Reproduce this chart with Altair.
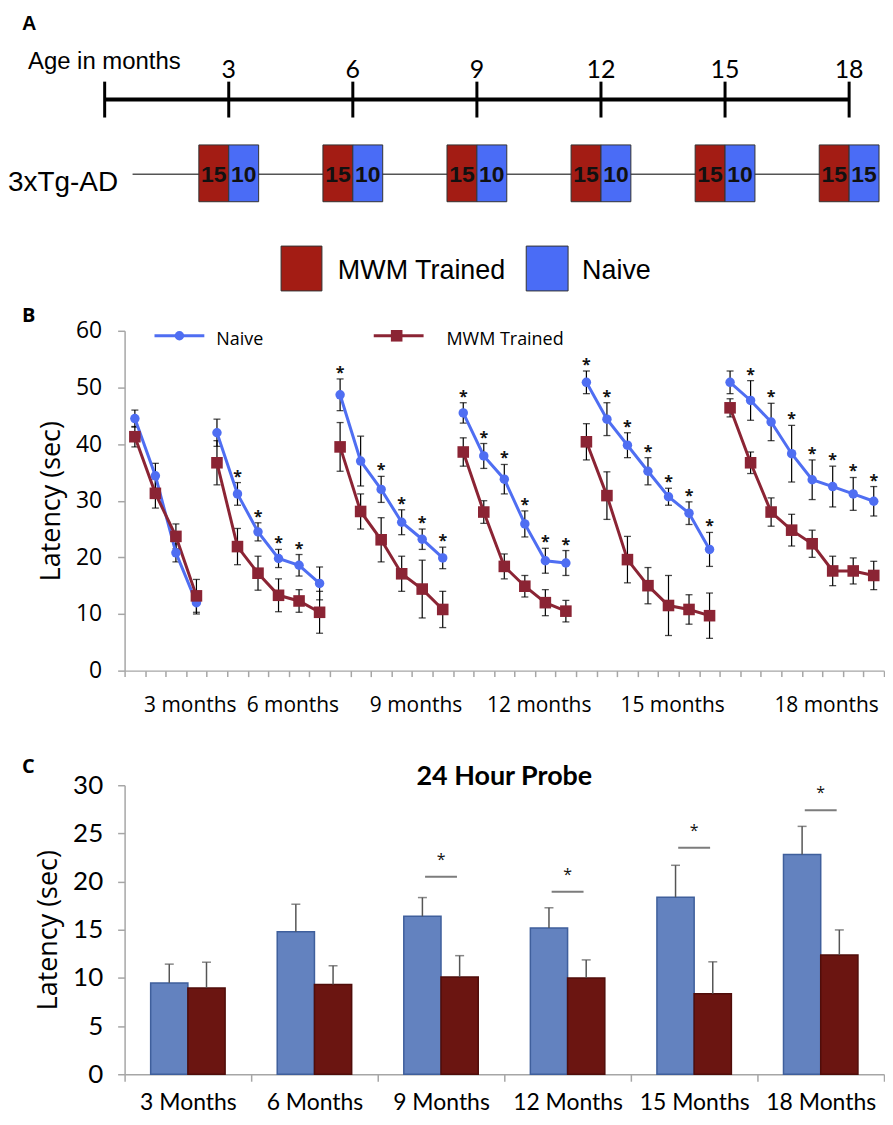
import altair as alt
import pandas as pd

# ---------------- Panel A data ----------------
timeline_ages = [0, 3, 6, 9, 12, 15, 18]
cohort_ages = [3, 6, 9, 12, 15, 18]
trained_n = [15, 15, 15, 15, 15, 15]
naive_n = [10, 10, 10, 10, 10, 15]

# ---------------- Panel B data ----------------
b_groups = ["3 months", "6 months", "9 months", "12 months", "15 months", "18 months"]
b_naive = [
    [44.5, 34.4, 20.8, 12.0],
    [42.0, 31.2, 24.5, 19.8, 18.6, 15.4],
    [48.7, 37.0, 32.0, 26.2, 23.2, 19.9],
    [45.5, 37.9, 33.8, 25.9, 19.4, 19.0],
    [50.9, 44.4, 39.8, 35.2, 30.7, 27.8, 21.4],
    [50.9, 47.7, 43.9, 38.3, 33.7, 32.5, 31.2, 29.9],
]
b_naive_err = [
    [1.5, 2.2, 1.6, 2.0],
    [2.4, 2.0, 1.6, 1.6, 1.9, 2.9],
    [2.8, 4.4, 2.3, 2.2, 1.8, 1.9],
    [1.8, 2.2, 2.6, 2.3, 2.2, 2.2],
    [2.0, 2.9, 2.2, 2.4, 1.5, 2.0, 3.0],
    [2.0, 3.5, 3.3, 5.0, 3.5, 3.6, 2.9, 2.6],
]
b_trained = [
    [41.3, 31.3, 23.7, 13.2],
    [36.7, 21.9, 17.2, 13.3, 12.3, 10.3],
    [39.5, 28.1, 23.1, 17.1, 14.4, 10.8],
    [38.6, 28.0, 18.4, 14.9, 12.0, 10.5],
    [40.4, 30.9, 19.6, 15.0, 11.5, 10.8, 9.7],
    [46.4, 36.7, 28.0, 24.8, 22.4, 17.6, 17.6, 16.8],
]
b_trained_err = [
    [1.8, 2.6, 2.2, 2.9],
    [3.9, 3.2, 3.0, 2.9, 2.0, 3.7],
    [4.3, 3.1, 3.9, 3.1, 5.1, 3.2],
    [2.5, 2.0, 2.2, 1.9, 2.3, 1.9],
    [3.2, 4.2, 4.1, 3.2, 5.3, 2.6, 4.0],
    [1.6, 1.9, 2.5, 2.8, 2.4, 2.6, 2.3, 2.5],
]
b_stars = [
    [0, 0, 0, 0],
    [0, 1, 1, 1, 1, 0],
    [1, 0, 1, 1, 1, 1],
    [1, 1, 1, 1, 1, 1],
    [1, 1, 1, 1, 1, 1, 1],
    [0, 1, 1, 1, 1, 1, 1, 1],
]

# ---------------- Panel C data ----------------
c_months = ["3 Months", "6 Months", "9 Months", "12 Months", "15 Months", "18 Months"]
c_naive = [9.48, 14.78, 16.39, 15.19, 18.37, 22.82]
c_naive_err = [1.95, 2.87, 1.95, 2.09, 3.32, 2.91]
c_trained = [8.96, 9.31, 10.09, 9.99, 8.35, 12.38]
c_trained_err = [2.67, 1.95, 2.22, 1.88, 3.32, 2.60]
c_sig_months = ["9 Months", "12 Months", "15 Months", "18 Months"]
c_sig_level = [20.5, 18.95, 23.5, 27.4]

# ---------------- styling ----------------
W = 762
HA, HB, HC = 207, 341, 290
SPACING = 115
SANS = "Open Sans"
CAL = "Lato"
ARIAL = "Liberation Sans"
GRAY = "#a6a6a6"
A_RED, A_BLUE = "#a31c14", "#4a6cf6"
B_BLUE, B_RED = "#4f6ef2", "#8b2434"
C_BLUE, C_RED = "#6382bf", "#6b1511"
C_BLUE_S, C_RED_S = "#3f5f9c", "#500d0a"

one = pd.DataFrame({"k": [0]})


def label(text, x, y, size, font=SANS, weight="normal", align="left", color="black"):
    return alt.Chart(one).mark_text(
        text=text, align=align, baseline="middle", font=font, fontSize=size,
        fontWeight=weight, color=color
    ).encode(x=alt.value(x), y=alt.value(y))


# ================= Panel A =================
px_month = 41.5
d0 = 20 / px_month
xA = alt.X("age:Q", scale=alt.Scale(domain=[d0, d0 + W / px_month], nice=False, zero=False), axis=None)

df_line = pd.DataFrame({"age": [timeline_ages[0]], "age2": [timeline_ages[-1]]})
df_ticks = pd.DataFrame({"age": timeline_ages})
df_tlab = pd.DataFrame({"age": cohort_ages, "lab": [str(a) for a in cohort_ages]})
df_box = pd.DataFrame({"age": cohort_ages, "trained": trained_n, "naive": naive_n})

timeline = alt.Chart(df_line).mark_rule(color="black", strokeWidth=4).encode(
    x=xA, x2="age2:Q", y=alt.value(90))
ticks = alt.Chart(df_ticks).mark_rule(color="black", strokeWidth=3).encode(
    x=xA, y=alt.value(72), y2=alt.value(108))
tick_labels = alt.Chart(df_tlab).mark_text(font=CAL, fontSize=25, baseline="middle").encode(
    x=xA, y=alt.value(60), text="lab:N")
cohort_line = alt.Chart(one).mark_rule(color="#555", strokeWidth=1.5).encode(
    x=alt.value(8), x2=alt.value(720), y=alt.value(165))
box_red = alt.Chart(df_box).mark_point(
    shape="M-1,-0.95L0,-0.95L0,0.95L-1,0.95Z", size=3600, filled=True,
    fill=A_RED, stroke="#333", strokeWidth=1, opacity=1).encode(x=xA, y=alt.value(164))
box_blue = alt.Chart(df_box).mark_point(
    shape="M0,-0.95L1,-0.95L1,0.95L0,0.95Z", size=3600, filled=True,
    fill=A_BLUE, stroke="#333", strokeWidth=1, opacity=1).encode(x=xA, y=alt.value(164))
num_red = alt.Chart(df_box).mark_text(dx=-15, font=ARIAL, fontSize=23, fontWeight="bold",
                                      baseline="middle", color="#111").encode(
    x=xA, y=alt.value(166), text="trained:Q")
num_blue = alt.Chart(df_box).mark_text(dx=15, font=ARIAL, fontSize=23, fontWeight="bold",
                                       baseline="middle", color="#111").encode(
    x=xA, y=alt.value(166), text="naive:Q")
leg_red = alt.Chart(one).mark_rect(fill=A_RED, stroke="#333", strokeWidth=1).encode(
    x=alt.value(157), x2=alt.value(198), y=alt.value(237), y2=alt.value(282))
leg_blue = alt.Chart(one).mark_rect(fill=A_BLUE, stroke="#333", strokeWidth=1).encode(
    x=alt.value(403), x2=alt.value(445), y=alt.value(237), y2=alt.value(282))

panelA = alt.layer(
    timeline, ticks, tick_labels, cohort_line, box_red, box_blue, num_red, num_blue,
    leg_red, leg_blue,
    label("A", -103, 14, 20, font=ARIAL, weight="bold"),
    label("Age in months", -97, 52, 24, font=ARIAL),
    label("3xTg-AD", -117, 174, 28, font=ARIAL),
    label("MWM Trained", 214, 262, 27, font=ARIAL),
    label("Naive", 459, 262, 27, font=ARIAL),
).properties(width=W, height=HA)

# ================= Panel B =================
rows = []
pos = 0
centers = []
for gi, g in enumerate(b_groups):
    start = pos
    for k in range(len(b_naive[gi])):
        rows.append(dict(group=g, pos=pos + 0.5, series="Naive", mean=b_naive[gi][k],
                         err=b_naive_err[gi][k], star=b_stars[gi][k]))
        rows.append(dict(group=g, pos=pos + 0.5, series="MWM Trained", mean=b_trained[gi][k],
                         err=b_trained_err[gi][k], star=0))
        pos += 1
    centers.append((start + pos) / 2)
n_total = pos
df_b = pd.DataFrame(rows)
df_b["lo"] = df_b["mean"] - df_b["err"]
df_b["hi"] = df_b["mean"] + df_b["err"]
df_star = df_b[(df_b["series"] == "Naive") & (df_b["star"] == 1)]
df_glab = pd.DataFrame({"group": b_groups, "pos": [c + 1.2 for c in centers]})

xB_axis = alt.Axis(values=list(range(n_total + 1)), labels=False, tickSize=6, grid=False,
                   title=None, domainColor=GRAY, tickColor=GRAY, domainWidth=1.5, tickWidth=1.5)
xB = alt.X("pos:Q", scale=alt.Scale(domain=[0, n_total], nice=False, zero=False), axis=xB_axis)
yB_axis = alt.Axis(values=list(range(0, 61, 10)), grid=False, labelFont=SANS, labelFontSize=23,
                   labelColor="black", labelPadding=16, tickSize=7, tickColor=GRAY,
                   domainColor=GRAY, domainWidth=1.5, tickWidth=1.5,
                   title="Latency (sec)", titleFont=SANS, titleFontSize=27,
                   titleFontWeight="normal", titleColor="black", titlePadding=10)
yB_scale = alt.Scale(domain=[0, 60], nice=False, zero=True)
colB = alt.Color("series:N", scale=alt.Scale(domain=["Naive", "MWM Trained"], range=[B_BLUE, B_RED]),
                 legend=None)

baseB = alt.Chart(df_b)
err_b = baseB.mark_rule(color="black", strokeWidth=1.2).encode(
    x=xB, y=alt.Y("lo:Q", scale=yB_scale, axis=yB_axis), y2="hi:Q")
cap_hi = baseB.mark_tick(orient="horizontal", size=7, thickness=1.3, color="black").encode(
    x=xB, y=alt.Y("hi:Q", scale=yB_scale, axis=yB_axis))
cap_lo = baseB.mark_tick(orient="horizontal", size=7, thickness=1.3, color="black").encode(
    x=xB, y=alt.Y("lo:Q", scale=yB_scale, axis=yB_axis))
lines_b = baseB.mark_line(strokeWidth=3).encode(
    x=xB, y=alt.Y("mean:Q", scale=yB_scale, axis=yB_axis), color=colB, detail="group:N")
pts_naive = alt.Chart(df_b[df_b["series"] == "Naive"]).mark_point(
    shape="circle", filled=True, size=90, opacity=1, color=B_BLUE).encode(
    x=xB, y=alt.Y("mean:Q", scale=yB_scale, axis=yB_axis))
pts_tr = alt.Chart(df_b[df_b["series"] == "MWM Trained"]).mark_point(
    shape="square", filled=True, size=135, opacity=1, color=B_RED).encode(
    x=xB, y=alt.Y("mean:Q", scale=yB_scale, axis=yB_axis))
stars_b = alt.Chart(df_star).mark_text(text="*", fontSize=16, font=SANS, fontWeight="bold",
                                       baseline="alphabetic", dy=-1, color="#111").encode(
    x=xB, y=alt.Y("hi:Q", scale=yB_scale, axis=yB_axis))
glab = alt.Chart(df_glab).mark_text(font=SANS, fontSize=21, baseline="middle", color="black").encode(
    x=xB, y=alt.value(HB + 36), text="group:N")

legB = [
    alt.Chart(one).mark_rule(color=B_BLUE, strokeWidth=3).encode(
        x=alt.value(30), x2=alt.value(80), y=alt.value(5)),
    alt.Chart(one).mark_point(shape="circle", filled=True, size=90, opacity=1, color=B_BLUE).encode(
        x=alt.value(55), y=alt.value(5)),
    label("Naive", 92, 9, 18),
    alt.Chart(one).mark_rule(color=B_RED, strokeWidth=3).encode(
        x=alt.value(250), x2=alt.value(300), y=alt.value(5)),
    alt.Chart(one).mark_point(shape="square", filled=True, size=135, opacity=1, color=B_RED).encode(
        x=alt.value(273), y=alt.value(5)),
    label("MWM Trained", 323, 9, 18),
    label("B", -103, -15, 20, font=SANS, weight="bold"),
]

panelB = alt.layer(err_b, cap_hi, cap_lo, lines_b, pts_naive, pts_tr, stars_b, glab, *legB).properties(
    width=W, height=HB)

# ================= Panel C =================
crow = []
for i, m in enumerate(c_months):
    crow.append(dict(month=m, series="Naive", mean=c_naive[i], err=c_naive_err[i]))
    crow.append(dict(month=m, series="MWM Trained", mean=c_trained[i], err=c_trained_err[i]))
df_c = pd.DataFrame(crow)
df_c["hi"] = df_c["mean"] + df_c["err"]
df_sig = pd.DataFrame({"month": c_sig_months, "level": c_sig_level})

xC_axis = alt.Axis(tickBand="extent", labelAngle=0, labelFont=CAL, labelFontSize=23,
                   labelColor="black", tickSize=7, labelPadding=10, domainColor=GRAY,
                   tickColor=GRAY, domainWidth=1.5, tickWidth=1.5, title=None, grid=False)
xC = alt.X("month:N", sort=c_months,
           scale=alt.Scale(domain=c_months, paddingInner=0, paddingOuter=0), axis=xC_axis)
xoffC = alt.XOffset("series:N", sort=["Naive", "MWM Trained"],
                    scale=alt.Scale(domain=["Naive", "MWM Trained"], paddingOuter=0.7, paddingInner=0))
yC_axis = alt.Axis(values=list(range(0, 31, 5)), grid=False, labelFont=CAL, labelFontSize=26,
                   labelColor="black", labelPadding=15, tickSize=7, tickColor=GRAY,
                   domainColor=GRAY, domainWidth=1.5, tickWidth=1.5,
                   title="Latency (sec)", titleFont=SANS, titleFontSize=27,
                   titleFontWeight="normal", titleColor="black", titlePadding=10)
yC_scale = alt.Scale(domain=[0, 30], nice=False)
ser_scale_fill = alt.Scale(domain=["Naive", "MWM Trained"], range=[C_BLUE, C_RED])
ser_scale_stroke = alt.Scale(domain=["Naive", "MWM Trained"], range=[C_BLUE_S, C_RED_S])

baseC = alt.Chart(df_c)
bars_c = baseC.mark_bar(strokeWidth=1.5).encode(
    x=xC, xOffset=xoffC, y=alt.Y("mean:Q", scale=yC_scale, axis=yC_axis),
    fill=alt.Fill("series:N", scale=ser_scale_fill, legend=None),
    stroke=alt.Stroke("series:N", scale=ser_scale_stroke, legend=None))
err_c = baseC.mark_rule(color="#555", strokeWidth=1.5).encode(
    x=xC, xOffset=xoffC, y=alt.Y("mean:Q", scale=yC_scale, axis=yC_axis), y2="hi:Q")
cap_c = baseC.mark_tick(orient="horizontal", size=9, thickness=1.5, color="#555").encode(
    x=xC, xOffset=xoffC, y=alt.Y("hi:Q", scale=yC_scale, axis=yC_axis))
sig_c = alt.Chart(df_sig).mark_tick(orient="horizontal", size=32, thickness=2, color="#444").encode(
    x=xC, y=alt.Y("level:Q", scale=yC_scale, axis=yC_axis))
sigstar_c = alt.Chart(df_sig).mark_text(text="*", fontSize=16, font=SANS, baseline="alphabetic",
                                        dy=-12, color="#111").encode(
    x=xC, y=alt.Y("level:Q", scale=yC_scale, axis=yC_axis))

panelC = alt.layer(
    bars_c, err_c, cap_c, sig_c, sigstar_c,
    label("24 Hour Probe", W / 2, -8, 27, font=CAL, weight="bold", align="center"),
    label("C", -103, -18, 20, font=SANS, weight="bold"),
).properties(width=W, height=HC)

chart = alt.vconcat(panelA, panelB, panelC, spacing=SPACING, bounds="flush").properties(
    padding=0, background="white"
).configure_view(stroke=None)

chart.save("out.html", embed_options={"renderer": "svg", "actions": False})
